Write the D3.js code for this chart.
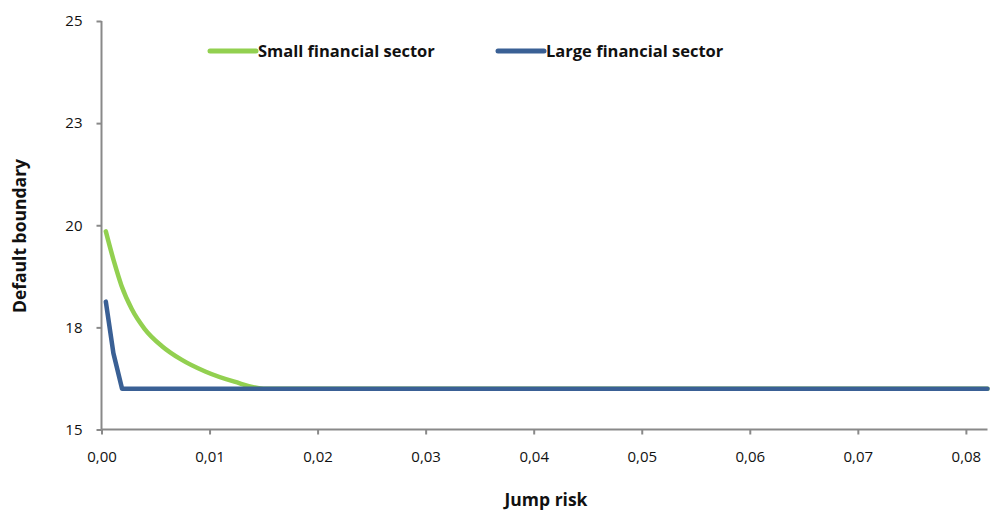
<!DOCTYPE html>
<html>
<head>
<meta charset="utf-8">
<script src="https://cdn.jsdelivr.net/npm/d3@7"></script>
<style>
	body { margin: 0; background: #ffffff; }
	svg text { font-family: "Open Sans", Lato, sans-serif; fill: #111; }
	.tick text { font-size: 15px; }
	.axisTitle { font-size: 17.5px; font-weight: bold; }
	.legendText { font-size: 16.5px; font-weight: bold; }
</style>
</head>
<body>
<script>
//data
var jumpSmall = [0.0004, 0.0012, 0.00185, 0.0028, 0.004, 0.0056, 0.0074, 0.0096, 0.0123, 0.0150, 0.03, 0.05, 0.082];
var boundarySmall = [19.85, 19.07, 18.52, 17.95, 17.46, 17.04, 16.71, 16.42, 16.17, 16.0, 16.0, 16.0, 16.0];
var jumpLarge = [0.0004, 0.0011, 0.0019, 0.03, 0.082];
var boundaryLarge = [18.13, 16.87, 16.0, 16.0, 16.0];
var seriesNames = ["Small financial sector", "Large financial sector"];
var yTickValues = [15, 17.5, 20, 22.5, 25];
var yTickLabels = ["15", "18", "20", "23", "25"];
var xTickValues = [0, 0.01, 0.02, 0.03, 0.04, 0.05, 0.06, 0.07, 0.08];

window.onload = function(){

	var w = 992, h = 514;

	var svg = d3.select("body")
		.append("svg")
		.attr("width", w)
		.attr("height", h);

	//scales
	var x = d3.scaleLinear()
		.domain([0, 0.082])
		.range([101.5, 987.5]);

	var y = d3.scaleLinear()
		.domain([15, 25])
		.range([429.5, 21]);

	//comma decimals like the original
	var locale = d3.formatLocale({decimal: ",", thousands: ".", grouping: [3], currency: ["", ""]});
	var fmt = locale.format(".2f");

	//y axis
	var yAxis = d3.axisLeft(y)
		.tickValues(yTickValues)
		.tickSize(5)
		.tickPadding(14)
		.tickFormat(function(d, i){ return yTickLabels[i]; });

	var gy = svg.append("g")
		.attr("class", "axis")
		.attr("transform", "translate(" + x(0) + ",0)")
		.call(yAxis);

	//x axis
	var xAxis = d3.axisBottom(x)
		.tickValues(xTickValues)
		.tickSize(5)
		.tickPadding(17)
		.tickFormat(fmt);

	var gx = svg.append("g")
		.attr("class", "axis")
		.attr("transform", "translate(0," + y(15) + ")")
		.call(xAxis);

	svg.selectAll(".axis path, .axis line")
		.attr("stroke", "#898989")
		.attr("stroke-width", 2);

	//domains without the outer ticks
	gy.select(".domain").attr("d", "M0," + y(25) + "V" + y(15));
	gx.select(".domain").attr("d", "M" + x(0) + ",0H" + x(0.082));

	//lines
	var line = d3.line()
		.x(function(d){ return x(d[0]); })
		.y(function(d){ return y(d[1]); })
		.curve(d3.curveMonotoneX);

	var smallData = jumpSmall.map(function(v, i){ return [v, boundarySmall[i]]; });
	var largeData = jumpLarge.map(function(v, i){ return [v, boundaryLarge[i]]; });
	var colors = ["#92d050", "#3a6095"];

	svg.append("path")
		.datum(smallData)
		.attr("d", line)
		.attr("fill", "none")
		.attr("stroke", colors[0])
		.attr("stroke-width", 4.5)
		.attr("stroke-linecap", "round")
		.attr("stroke-linejoin", "round");

	svg.append("path")
		.datum(largeData)
		.attr("d", line.curve(d3.curveLinear))
		.attr("fill", "none")
		.attr("stroke", colors[1])
		.attr("stroke-width", 4.5)
		.attr("stroke-linecap", "round")
		.attr("stroke-linejoin", "round");

	//legend
	var legendX = [210, 498];
	var legend = svg.selectAll(".legendItem")
		.data(seriesNames)
		.enter()
		.append("g")
		.attr("class", "legendItem")
		.attr("transform", function(d, i){ return "translate(" + legendX[i] + ",51)"; });

	legend.append("line")
		.attr("x1", 0)
		.attr("x2", 46)
		.attr("stroke", function(d, i){ return colors[i]; })
		.attr("stroke-width", 5)
		.attr("stroke-linecap", "round");

	legend.append("text")
		.attr("class", "legendText")
		.attr("x", 48)
		.attr("y", 6)
		.text(function(d){ return d; });

	//axis titles
	svg.append("text")
		.attr("class", "axisTitle")
		.attr("text-anchor", "middle")
		.attr("transform", "translate(26,236) rotate(-90)")
		.text("Default boundary");

	svg.append("text")
		.attr("class", "axisTitle")
		.attr("text-anchor", "middle")
		.attr("x", 546)
		.attr("y", 506)
		.text("Jump risk");
};
</script>
</body>
</html>
